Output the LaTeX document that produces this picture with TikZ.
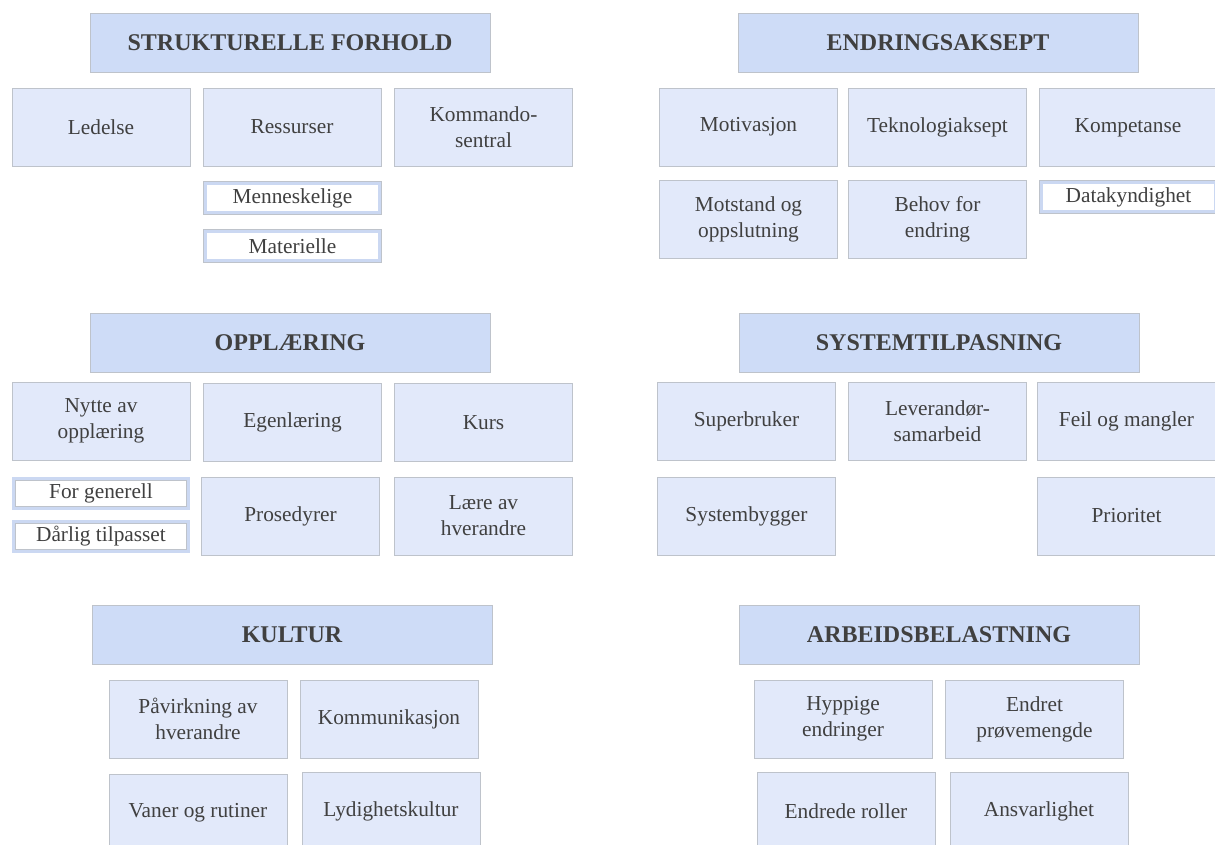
\documentclass[tikz,border=0pt]{standalone}
\usepackage{fontspec}
\setmainfont{Liberation Serif}
\usepackage{tikz}
\definecolor{catblue}{HTML}{CEDCF7}
\definecolor{itemblue}{HTML}{E2E9FA}
\definecolor{subblue}{HTML}{CBD8F2}
\definecolor{edgegray}{HTML}{BEC3CB}
\definecolor{txtgray}{HTML}{404040}
\tikzset{
  catbox/.style={draw=edgegray, fill=catblue, minimum width=300pt, minimum height=44.5pt,
    inner sep=0pt, text=txtgray, font=\fontsize{18}{22}\selectfont\bfseries},
  itembox/.style={draw=edgegray, fill=itemblue, minimum width=133.5pt, minimum height=58.5pt,
    inner sep=0pt, align=center, text=txtgray, font=\fontsize{16}{19.5}\selectfont},
  subbox/.style={draw=edgegray, line width=0.4pt, double=subblue, double distance=2.2pt,
    fill=white, minimum width=131pt, minimum height=22pt, inner sep=0pt, text=txtgray,
    font=\fontsize{16}{19.5}\selectfont}
}
\begin{document}
\begin{tikzpicture}[x=0.75pt,y=-0.75pt]
    \useasboundingbox (0,0) rectangle (1215,844);
    \clip (0,0) rectangle (1215,844);
    \node [catbox] (struktur) at (290, 42.5) {STRUKTURELLE FORHOLD};
    \node [itembox] (ledelse) at (101, 127) {Ledelse};
    \node [itembox] (ressurser) at (292, 127) {Ressurser};
    \node [itembox] (kommando) at (483.5, 127) {Kommando-\\sentral};
    \node [subbox] (menneskelige) at (292.5, 198) {Menneskelige};
    \node [subbox] (materielle) at (292.5, 246) {Materielle};

    \node [catbox] (endring) at (938, 42.5) {ENDRINGSAKSEPT};
    \node [itembox] (motivasjon) at (748.5, 127) {Motivasjon};
    \node [itembox] (teknologi) at (937.5, 127) {Teknologiaksept};
    \node [itembox] (kompetanse) at (1128, 127.5) {Kompetanse};
    \node [subbox] (datakyndighet) at (1128.5, 197) {Datakyndighet};
    \node [itembox] (motstand) at (748.5, 219.5) {Motstand og\\oppslutning};
    \node [itembox] (behov) at (937.5, 219) {Behov for\\endring};

    \node [catbox] (opplaering) at (290, 342.5) {OPPLÆRING};
    \node [itembox] (nytte) at (101, 421) {Nytte av\\opplæring};
    \node [itembox] (egenlaering) at (292.5, 422.5) {Egenlæring};
    \node [itembox] (kurs) at (483.5, 422.5) {Kurs};
    \node [subbox] (generell) at (101, 493.5) {For generell};
    \node [subbox] (tilpasset) at (101, 536.5) {Dårlig tilpasset};
    \node [itembox] (prosedyrer) at (290.5, 516) {Prosedyrer};
    \node [itembox] (laere) at (483.5, 516) {Lære av\\hverandre};

    \node [catbox] (system) at (939, 342.5) {SYSTEMTILPASNING};
    \node [itembox] (superbruker) at (746.5, 421) {Superbruker};
    \node [itembox] (leverandor) at (937.5, 421) {Leverandør-\\samarbeid};
    \node [itembox] (feil) at (1126.5, 421) {Feil og mangler};
    \node [itembox] (systembygger) at (746.5, 516) {Systembygger};
    \node [itembox] (prioritet) at (1126.5, 516) {Prioritet};

    \node [catbox] (kultur) at (292, 635) {KULTUR};
    \node [itembox] (pavirkning) at (198, 719) {Påvirkning av\\hverandre};
    \node [itembox] (kommunikasjon) at (389, 719) {Kommunikasjon};
    \node [itembox] (vaner) at (198, 813) {Vaner og rutiner};
    \node [itembox] (lydighet) at (391, 811) {Lydighetskultur};

    \node [catbox] (arbeid) at (939, 635) {ARBEIDSBELASTNING};
    \node [itembox] (hyppige) at (843, 719) {Hyppige\\endringer};
    \node [itembox] (provemengde) at (1034.5, 719) {Endret\\prøvemengde};
    \node [itembox] (roller) at (846, 811) {Endrede roller};
    \node [itembox] (ansvarlighet) at (1039, 811) {Ansvarlighet};
\end{tikzpicture}
\end{document}
